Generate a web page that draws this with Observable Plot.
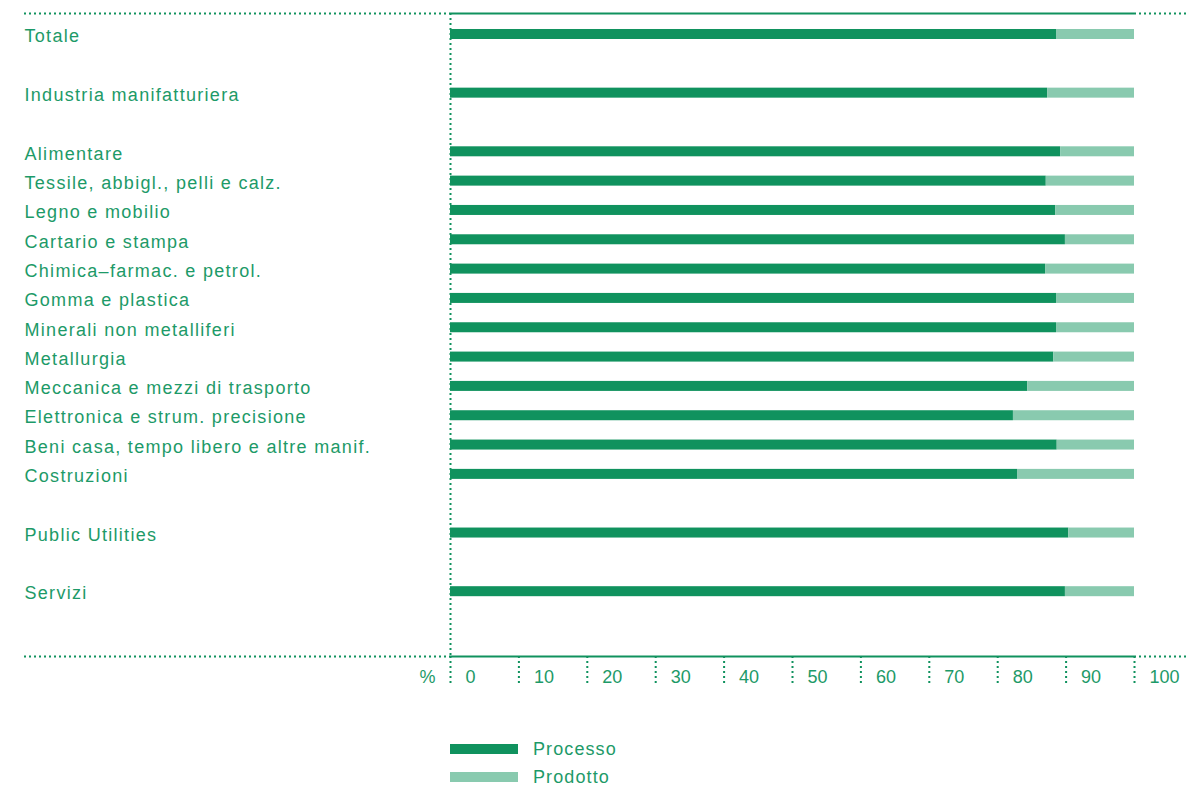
<!DOCTYPE html>
<html><head><meta charset="utf-8">
<script src="https://cdn.jsdelivr.net/npm/d3@7"></script>
<script src="https://cdn.jsdelivr.net/npm/@observablehq/plot@0.6"></script>
<style>
body{margin:0;background:#fff;font-family:"Liberation Sans",Arial,sans-serif;color:#1d9a68;}
#chart svg{display:block;overflow:visible}
#chart .lbl, #chart .lbl text{letter-spacing:1.3px}
.legend{margin-left:450px;margin-top:35px}
.row{display:flex;align-items:center;height:28px;font-size:18px;letter-spacing:1.1px}
.sw{width:68px;height:10px;margin-right:15px}
</style></head><body>
<div id="chart"></div>
<div class="legend" id="legend"></div>
<script>
const categories = ["Totale", "Industria manifatturiera", "Alimentare", "Tessile, abbigl., pelli e calz.", "Legno e mobilio", "Cartario e stampa", "Chimica–farmac. e petrol.", "Gomma e plastica", "Minerali non metalliferi", "Metallurgia", "Meccanica e mezzi di trasporto", "Elettronica e strum. precisione", "Beni casa, tempo libero e altre manif.", "Costruzioni", "Public Utilities", "Servizi"];
const processo = [88.6, 87.3, 89.2, 87.1, 88.5, 89.9, 87.0, 88.6, 88.6, 88.2, 84.4, 82.3, 88.7, 82.9, 90.4, 89.9];
const prodotto = [11.4, 12.7, 10.8, 12.9, 11.5, 10.1, 13.0, 11.4, 11.4, 11.8, 15.6, 17.7, 11.3, 17.1, 9.6, 10.1];
const xTicks = [0, 10, 20, 30, 40, 50, 60, 70, 80, 90, 100];
const unitLabel = "%";
const seriesNames = ["Processo", "Prodotto"];
const seriesColors = ["#10925e", "#89caaf"];
const groupBreaksAfter = [0, 1, 13, 14];

let pos = 0;
const rows = categories.map((c, i) => {
  const r = {name: c, pos, processo: processo[i], prodotto: prodotto[i]};
  pos += groupBreaksAfter.includes(i) ? 2 : 1;
  return r;
});

const W = 1186, H = 700, ML = 450, MR = 52, MT = 13, MB = 44;
const yDomain = [-0.716, 21.21];
const pxPerUnit = (W - ML - MR) / 100;
const xLeftExt = -(ML - 24) / pxPerUnit;
const xRightExt = 100 + MR / pxPerUnit;
const green = "#10925e", textCol = "#1d9a68";
const FONT = "'Liberation Sans', Arial, sans-serif";
const rowPx = (H - MT - MB) / (yDomain[1] - yDomain[0]);
const inset = (rowPx - 10) / 2;
const dots = {stroke: green, strokeWidth: 2, strokeDasharray: "2 3"};

const chart = Plot.plot({
  width: W, height: H,
  marginLeft: ML, marginRight: MR, marginTop: MT, marginBottom: MB,
  style: {fontFamily: FONT, fontSize: "18px", color: textCol, background: "white", overflow: "visible"},
  x: {domain: [0, 100], axis: null},
  y: {domain: yDomain, reverse: true, axis: null},
  marks: [
    Plot.ruleX([0], dots),
    Plot.axisX(xTicks, {anchor: "bottom", label: null, tickSize: 30, tickFormat: () => "", ...dots}),
    Plot.rectX(rows, {x1: 0, x2: "processo", y1: d => d.pos - 0.5, y2: d => d.pos + 0.5, insetTop: inset, insetBottom: inset, fill: seriesColors[0]}),
    Plot.rectX(rows, {x1: "processo", x2: d => d.processo + d.prodotto, y1: d => d.pos - 0.5, y2: d => d.pos + 0.5, insetTop: inset, insetBottom: inset, fill: seriesColors[1]}),
    Plot.ruleY(yDomain, {stroke: green, strokeWidth: 2}),
    Plot.ruleY(yDomain, {x1: xLeftExt, x2: 0, ...dots}),
    Plot.ruleY(yDomain, {x1: 100, x2: xRightExt, ...dots}),
    Plot.text(rows, {y: "pos", text: "name", frameAnchor: "left", textAnchor: "start", dx: -(ML - 24), dy: 2, fill: textCol, fontSize: 18, className: "lbl"}),
    Plot.text(xTicks, {x: d => d, frameAnchor: "bottom", dy: 26, dx: 15, textAnchor: "start", fill: textCol, fontSize: 18}),
    Plot.text([unitLabel], {x: () => 0, text: d => d, frameAnchor: "bottom", dy: 26, dx: -15, textAnchor: "end", fill: textCol, fontSize: 18})
  ]
});
document.getElementById("chart").appendChild(chart);

const legend = document.getElementById("legend");
seriesNames.forEach((n, i) => {
  const row = document.createElement("div");
  row.className = "row";
  row.innerHTML = `<div class="sw" style="background:${seriesColors[i]}"></div><span>${n}</span>`;
  legend.appendChild(row);
});
</script>
</body></html>
